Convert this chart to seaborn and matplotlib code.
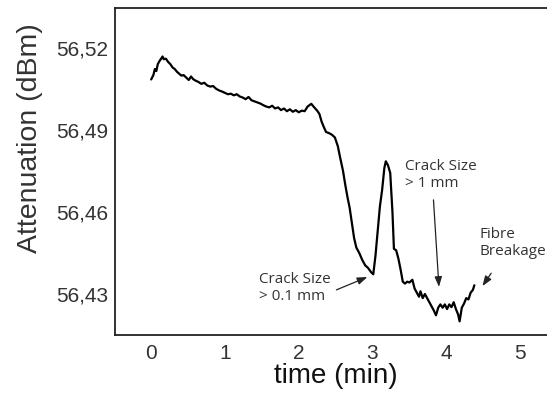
import matplotlib
matplotlib.use("Agg")
import matplotlib.pyplot as plt
import seaborn as sns
import pandas as pd
from matplotlib.ticker import FuncFormatter

# Attenuation trace during crack growth, read at irregular time steps (min, dBm)
time_min = [
    0.00, 0.03, 0.05, 0.07, 0.09, 0.11, 0.13, 0.155, 0.17, 0.20, 0.23, 0.26, 0.29, 0.32,
    0.35, 0.38, 0.41, 0.44, 0.48, 0.51, 0.54, 0.57, 0.60, 0.64, 0.68, 0.72, 0.76, 0.80,
    0.84, 0.88, 0.92, 0.96, 1.00, 1.04, 1.08, 1.12, 1.16, 1.20, 1.24, 1.28, 1.32, 1.36,
    1.40, 1.44, 1.48, 1.52, 1.56, 1.60, 1.64, 1.68, 1.72, 1.76, 1.80, 1.84, 1.88, 1.92,
    1.96, 2.00, 2.04, 2.08, 2.12, 2.17, 2.21, 2.25, 2.28, 2.31, 2.34, 2.37, 2.41, 2.45,
    2.49, 2.53, 2.56, 2.60, 2.63, 2.66, 2.69, 2.72, 2.75, 2.78, 2.82, 2.86, 2.90, 2.94,
    2.98, 3.01, 3.04, 3.07, 3.10, 3.13, 3.16, 3.18, 3.21, 3.24, 3.27, 3.29, 3.32, 3.35,
    3.38, 3.41, 3.44, 3.47, 3.50, 3.54, 3.57, 3.60, 3.63, 3.65, 3.68, 3.71, 3.74, 3.77,
    3.80, 3.83, 3.86, 3.89, 3.92, 3.95, 3.98, 4.01, 4.04, 4.07, 4.10, 4.13, 4.16, 4.18,
    4.21, 4.24, 4.27, 4.30, 4.33, 4.36, 4.38,
]
attenuation_dbm = [
    56.5084, 56.5100, 56.5122, 56.5115, 56.5140, 56.5150, 56.5158, 56.5168, 56.5158, 56.5160,
    56.5148, 56.5140, 56.5128, 56.5122, 56.5112, 56.5105, 56.5098, 56.5100, 56.5090, 56.5082,
    56.5095, 56.5085, 56.5080, 56.5075, 56.5068, 56.5072, 56.5062, 56.5058, 56.5060, 56.5050,
    56.5044, 56.5040, 56.5035, 56.5030, 56.5032, 56.5026, 56.5030, 56.5022, 56.5018, 56.5012,
    56.5020, 56.5008, 56.5004, 56.5000, 56.4996, 56.4990, 56.4985, 56.4982, 56.4988, 56.4978,
    56.4982, 56.4972, 56.4978, 56.4968, 56.4975, 56.4966, 56.4972, 56.4964, 56.4970, 56.4968,
    56.4985, 56.4995, 56.4982, 56.4970, 56.4958, 56.4930, 56.4910, 56.4892, 56.4888, 56.4882,
    56.4872, 56.4840, 56.4800, 56.4750, 56.4700, 56.4655, 56.4615, 56.4560, 56.4505, 56.4470,
    56.4450, 56.4425, 56.4405, 56.4395, 56.4380, 56.4372, 56.4440, 56.4530, 56.4620, 56.4680,
    56.4760, 56.4785, 56.4770, 56.4742, 56.4600, 56.4465, 56.4460, 56.4430, 56.4390, 56.4345,
    56.4338, 56.4345, 56.4342, 56.4352, 56.4320, 56.4305, 56.4290, 56.4310, 56.4285, 56.4300,
    56.4285, 56.4270, 56.4255, 56.4240, 56.4222, 56.4250, 56.4262, 56.4250, 56.4262, 56.4245,
    56.4262, 56.4252, 56.4270, 56.4245, 56.4225, 56.4200, 56.4250, 56.4265, 56.4285, 56.4280,
    56.4305, 56.4315, 56.4332,
]

x_ticks = [0, 1, 2, 3, 4, 5]
y_ticks = [56.43, 56.46, 56.49, 56.52]

# Event notes: text, text anchor (left, centre), arrow tail, arrow head
notes = [
    ("Crack Size\n> 0.1 mm", (1.467, 56.4322), (2.51, 56.4315), (2.93, 56.4362)),
    ("Crack Size\n> 1 mm", (3.446, 56.4735), (3.826, 56.4644), (3.90, 56.4326)),
    ("Fibre\nBreakage", (4.443, 56.4487), (4.608, 56.4376), (4.49, 56.4329)),
]

df = pd.DataFrame({"time": time_min, "att": attenuation_dbm})

sns.set_style("white")
plt.rcParams["font.family"] = ["Liberation Sans", "DejaVu Sans"]

fig = plt.figure(figsize=(5.47, 3.93), dpi=100)
ax = fig.add_axes([115 / 547, 58.5 / 393, 442 / 547, 327 / 393])

sns.lineplot(data=df, x="time", y="att", ax=ax, sort=False, estimator=None,
             color="black", linewidth=1.6)

ax.set_xlim(-0.49, 5.5)
ax.set_ylim(56.4152, 56.5347)
ax.set_xticks(x_ticks)
ax.set_yticks(y_ticks)
ax.yaxis.set_major_formatter(FuncFormatter(lambda v, _: f"{v:.2f}".replace(".", ",")))

for side in ["left", "bottom", "top"]:
    ax.spines[side].set_color("#222222")
    ax.spines[side].set_linewidth(1.3)
ax.spines["right"].set_visible(False)

ax.tick_params(axis="both", direction="in", length=5, width=1.2, color="#444444",
               labelsize=15, labelcolor="#333333")
ax.tick_params(axis="y", pad=5)
ax.tick_params(axis="x", pad=7)
ax.set_xlabel("time (min)", fontsize=20, color="#111111", labelpad=0)
ax.set_ylabel("Attenuation (dBm)", fontsize=20.5, color="#333333")
ax.yaxis.set_label_coords(-0.163, 0.60)

arrow_kw = dict(arrowstyle="-|>,head_length=0.6,head_width=0.22", color="#222222",
                lw=0.9, shrinkA=0, shrinkB=0)
for label, text_xy, tail, head in notes:
    ax.text(*text_xy, label, ha="left", va="center", fontsize=11, color="#333333",
            family=["Open Sans", "DejaVu Sans"], linespacing=1.2)
    ax.annotate("", xy=head, xytext=tail, arrowprops=arrow_kw)

fig.savefig("out.png", dpi=100)
